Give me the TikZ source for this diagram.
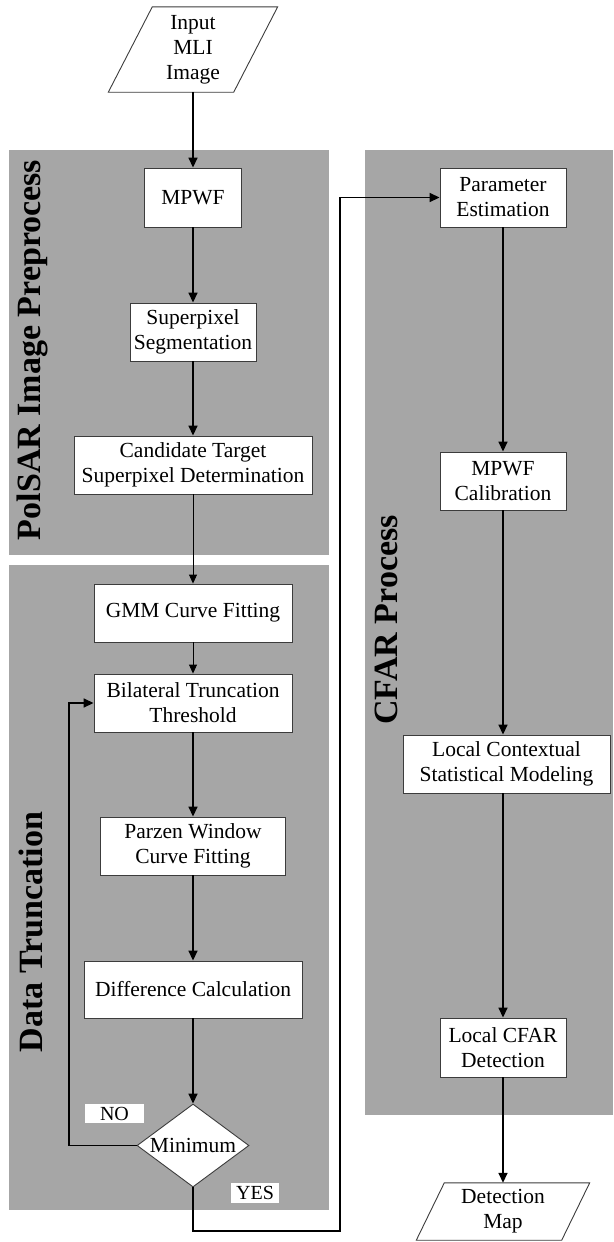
\documentclass[tikz,border=0pt]{standalone}
\usepackage{fontspec}
\setmainfont{Liberation Serif}
\usetikzlibrary{arrows.meta,shapes.geometric,calc}
\pgfdeclarelayer{bg}
\pgfsetlayers{bg,main}
\definecolor{panelc}{RGB}{166,166,166}
\definecolor{boxc}{RGB}{60,60,60}
\newcommand{\boxfont}{\fontsize{21.5}{25}\selectfont}
\newcommand{\tagfont}{\fontsize{20}{22}\selectfont}
\newcommand{\labfont}{\fontsize{34}{36}\selectfont\bfseries}
\begin{document}
\begin{tikzpicture}[x=1pt,y=-1pt,
  panel/.style={fill=panelc},
  stepbox/.style={draw=boxc,line width=0.9pt,fill=white,font=\boxfont,align=center,inner sep=0pt},
  ptext/.style={font=\boxfont,align=center,inner sep=0pt},
  pline/.style={draw=boxc,line width=0.9pt,fill=white},
  dec/.style={diamond,aspect=1.35,draw=boxc,line width=0.9pt,fill=white,font=\boxfont,inner sep=0pt,minimum width=112,minimum height=83},
  tag/.style={fill=white,font=\tagfont,inner sep=0pt},
  lab/.style={font=\labfont,rotate=90,inner sep=0pt},
  arr/.style={-{Triangle[length=10pt,width=9pt]},line width=1.6pt},
  thinarr/.style={-{Triangle[length=9pt,width=8pt]},line width=0.9pt}]
\useasboundingbox (0,0) rectangle (613,1242);
% panels
\fill[panel] (9,150) rectangle (329,555);
\fill[panel] (9,565) rectangle (329,1210);
\fill[panel] (365,150) rectangle (613,1115);
% panel labels
\node[lab] (l1) at (32,350) {PolSAR Image Preprocess};
\node[lab] (l2) at (31,932) {Data Truncation};
\node[lab] (l3) at (386,620) {CFAR Process};
% input / output (parallelograms)
\node[ptext,minimum width=125,minimum height=85] (in) at (193,49.5) {Input\\MLI\\Image};
\node[ptext,minimum width=145,minimum height=57] (dm) at (503,1211.5) {Detection\\Map};
\begin{pgfonlayer}{bg}
\path[pline] ($(in.south west)+(-22,0)$) -- ($(in.south east)+(-22,0)$) -- ($(in.north east)+(22,0)$) -- ($(in.north west)+(22,0)$) -- cycle;
\path[pline] ($(dm.south west)+(-14,0)$) -- ($(dm.south east)+(-14,0)$) -- ($(dm.north east)+(14,0)$) -- ($(dm.north west)+(14,0)$) -- cycle;
\end{pgfonlayer}
% left column
\node[stepbox,minimum width=97,minimum height=59] (mpwf) at (193,197.5) {MPWF};
\node[stepbox,minimum width=126,minimum height=58] (seg) at (193,332) {Superpixel\\Segmentation};
\node[stepbox,minimum width=238,minimum height=58] (cand) at (193,465) {Candidate Target\\Superpixel Determination};
\node[stepbox,minimum width=198,minimum height=58] (gmm) at (193,613) {GMM Curve Fitting};
\node[stepbox,minimum width=198,minimum height=58] (bil) at (193,703) {Bilateral Truncation\\Threshold};
\node[stepbox,minimum width=185,minimum height=58] (parzen) at (193,846) {Parzen Window\\Curve Fitting};
\node[stepbox,minimum width=218,minimum height=57] (diff) at (193,989.5) {Difference Calculation};
\node[dec] (min) at (193,1145.5) {Minimum};
\node[tag,minimum width=59,minimum height=19] (no) at (114.5,1113.5) {NO};
\node[tag,minimum width=48,minimum height=20] (yes) at (255,1193) {YES};
% right column
\node[stepbox,minimum width=126,minimum height=59] (param) at (503,197.5) {Parameter\\Estimation};
\node[stepbox,minimum width=126,minimum height=58] (calib) at (503,481) {MPWF\\Calibration};
\node[stepbox,minimum width=207,minimum height=58] (lcsm) at (506.5,764) {Local Contextual\\Statistical Modeling};
\node[stepbox,minimum width=126,minimum height=59] (lcfar) at (503,1047.5) {Local CFAR\\Detection};
% connectors
\draw[arr] (in.south) -- (mpwf.north);
\draw[arr] (mpwf) -- (seg);
\draw[arr] (seg) -- (cand);
\draw[thinarr] (cand) -- (gmm);
\draw[thinarr] (gmm) -- (bil);
\draw[arr] (bil) -- (parzen);
\draw[arr] (parzen) -- (diff);
\draw[arr] (diff) -- (min);
\coordinate (nol) at (69,1145.5);
\draw[arr] (min.west) -- (nol) |- (bil.west);
\coordinate (yb) at (193,1231);
\coordinate (yr) at (340,1231);
\draw[arr] (min.south) -- (yb) -- (yr) |- (param.west);
\draw[arr] (param) -- (calib);
\draw[arr] (calib.south) -- (calib.south |- lcsm.north);
\draw[arr] (calib.south |- lcsm.south) -- (lcfar.north);
\draw[arr] (lcfar.south) -- (dm.north);
\end{tikzpicture}
\end{document}
